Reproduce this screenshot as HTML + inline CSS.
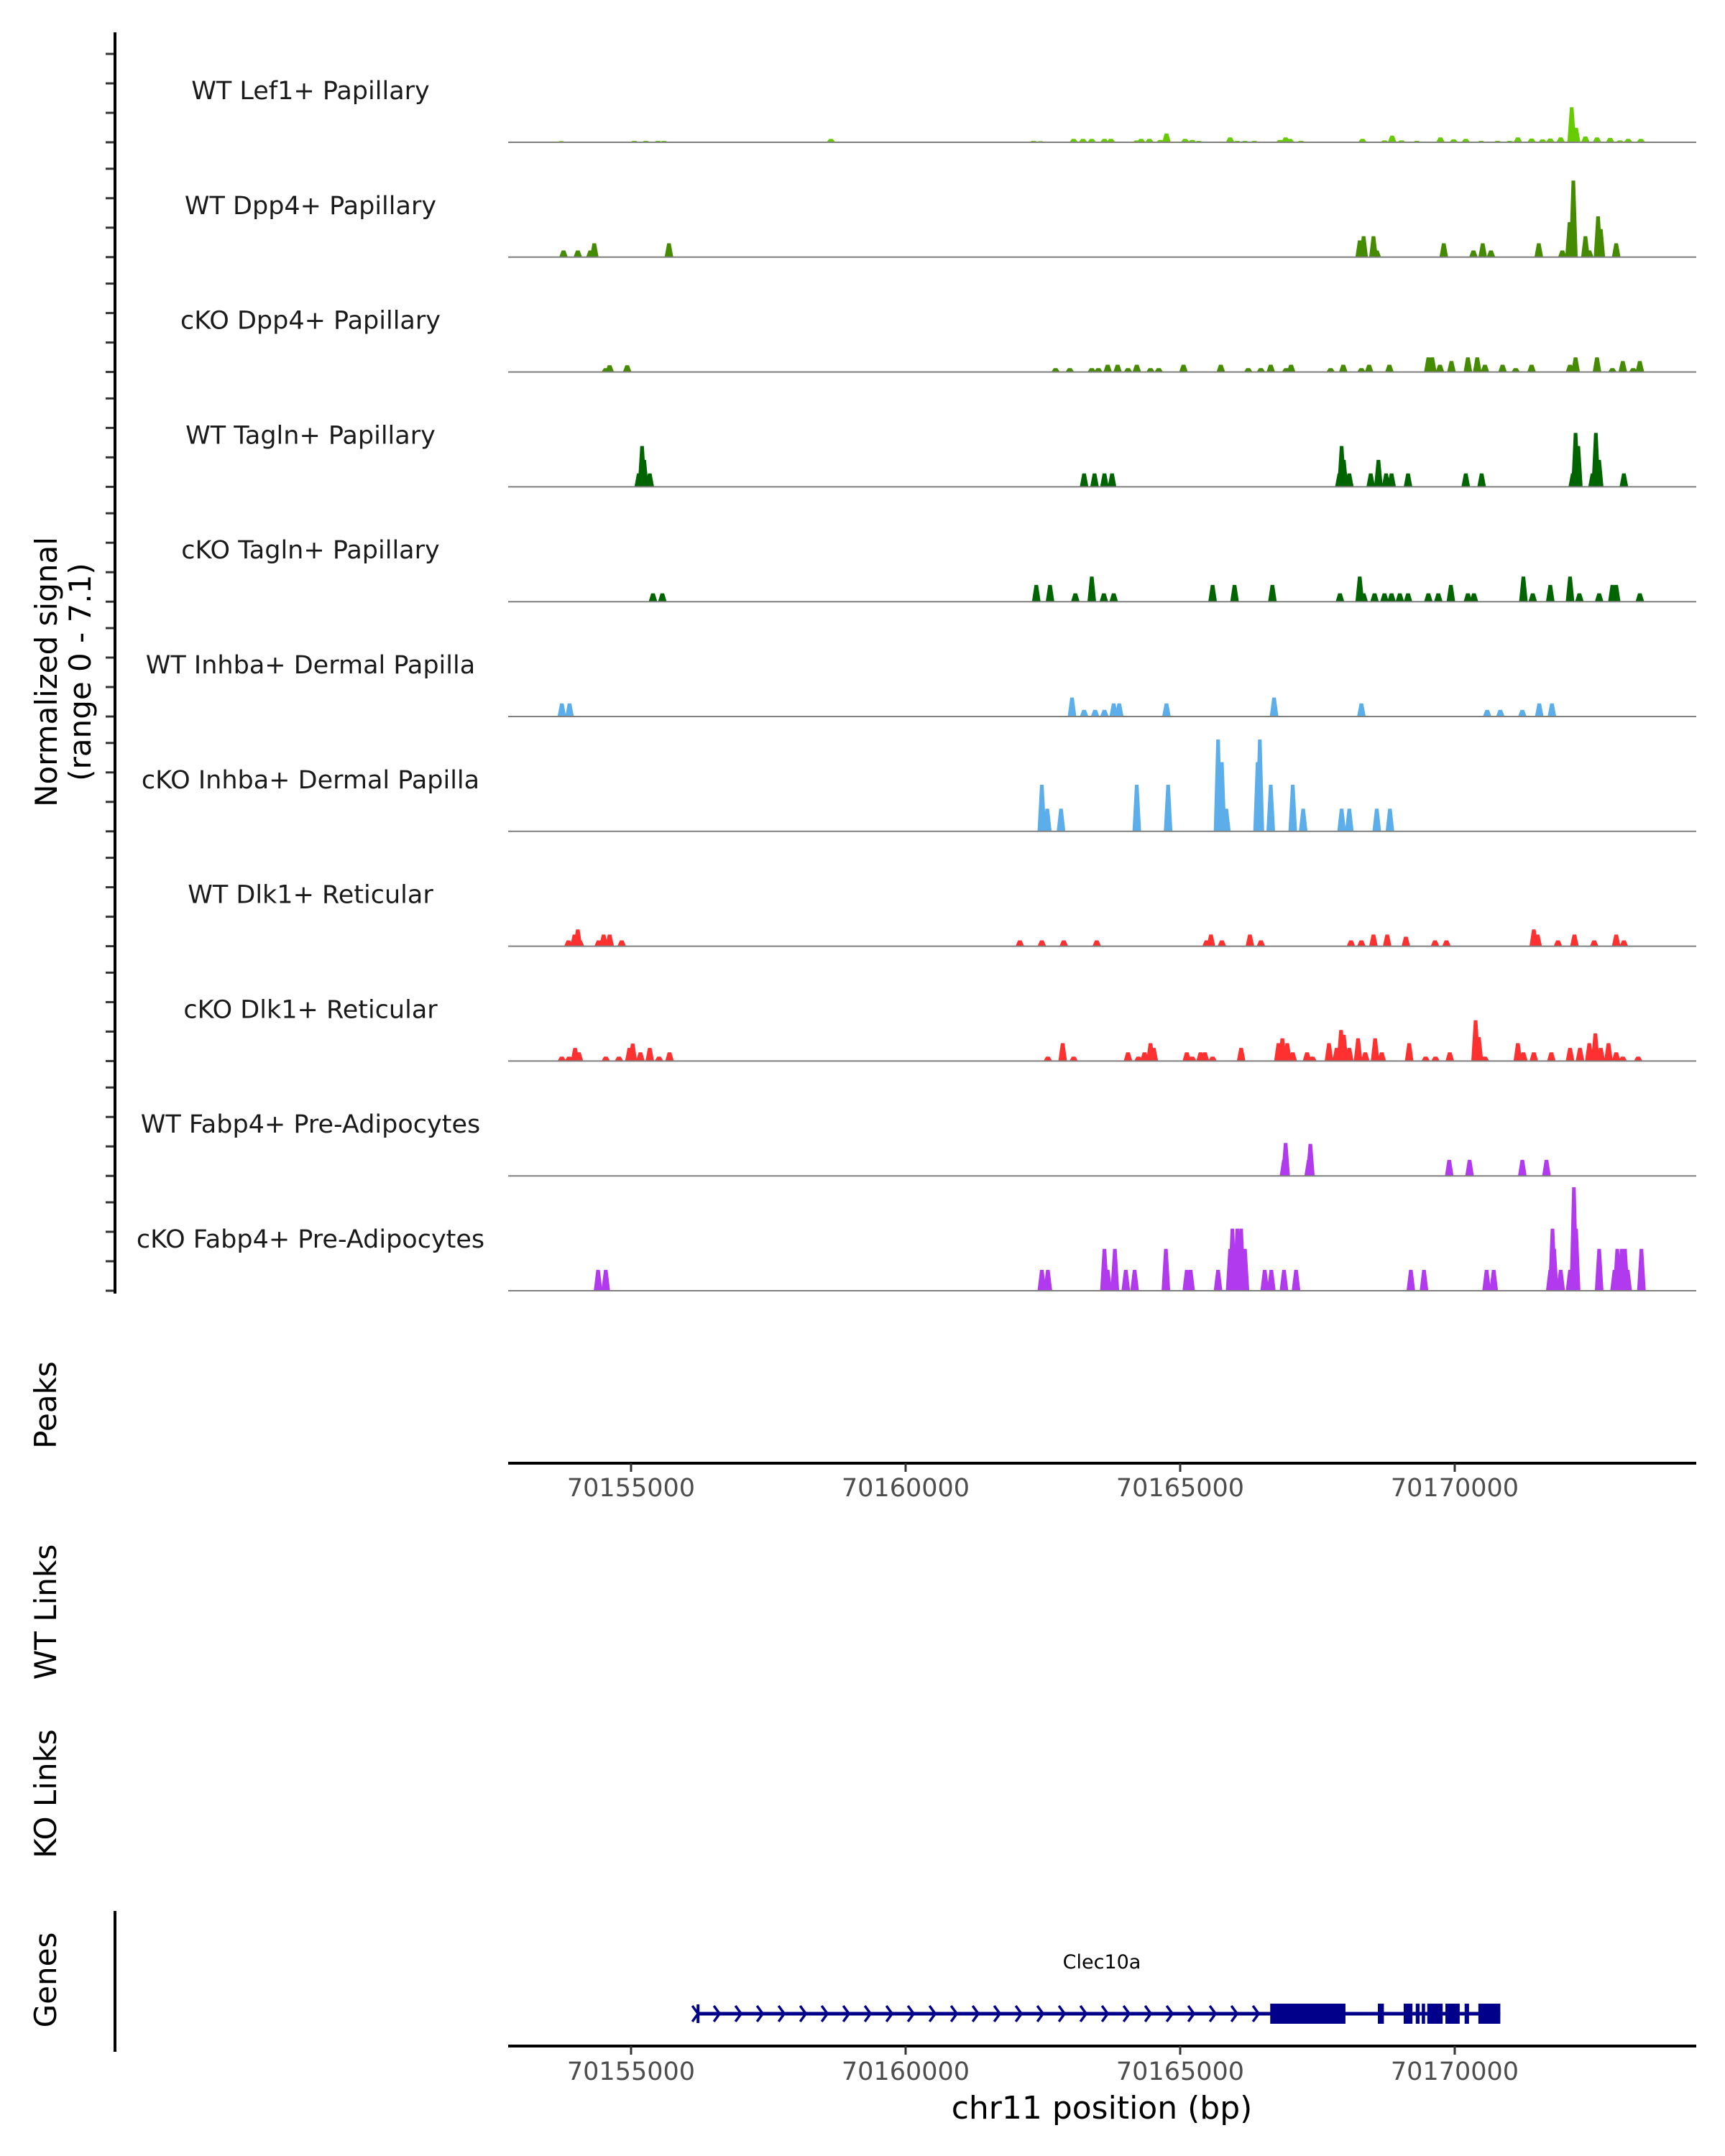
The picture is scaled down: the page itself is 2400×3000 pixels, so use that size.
<!DOCTYPE html>
<html><head><meta charset="utf-8"><style>
html,body{margin:0;padding:0;background:#fff;}
svg{display:block;font-family:"DejaVu Sans","Liberation Sans",sans-serif;}
</style></head><body>
<svg id="chart" xmlns="http://www.w3.org/2000/svg" width="2400" height="3000" viewBox="0 0 2400 3000">
<rect width="2400" height="3000" fill="#fff"/>
<g id="tracks"></g>
<g id="left-axis"></g>
<text transform="translate(79,935) rotate(-90)" text-anchor="middle" font-size="42" fill="#000">Normalized signal</text>
<text transform="translate(126,935) rotate(-90)" text-anchor="middle" font-size="42" fill="#000">(range 0 - 7.1)</text>
<text transform="translate(78,1955) rotate(-90)" text-anchor="middle" font-size="42" fill="#000">Peaks</text>
<text transform="translate(78,2243) rotate(-90)" text-anchor="middle" font-size="42" fill="#000">WT Links</text>
<text transform="translate(78,2496) rotate(-90)" text-anchor="middle" font-size="42" fill="#000">KO Links</text>
<text transform="translate(78,2755) rotate(-90)" text-anchor="middle" font-size="42" fill="#000">Genes</text>
<line x1="160" y1="2659" x2="160" y2="2855" stroke="#000" stroke-width="4"/>
<g id="xaxes"></g>
<g id="gene"></g>
<text x="1533" y="2948" text-anchor="middle" font-size="44" fill="#000">chr11 position (bp)</text>
</svg>
<script>
// ---- data (positions in kb offset from chr11:70,150,000; values = normalized signal) ----
const trackNames = ["WT Lef1+ Papillary","WT Dpp4+ Papillary","cKO Dpp4+ Papillary","WT Tagln+ Papillary","cKO Tagln+ Papillary","WT Inhba+ Dermal Papilla","cKO Inhba+ Dermal Papilla","WT Dlk1+ Reticular","cKO Dlk1+ Reticular","WT Fabp4+ Pre-Adipocytes","cKO Fabp4+ Pre-Adipocytes"];
const trackColors = ["#66cc00","#458b00","#458b00","#006400","#006400","#5caeeb","#5caeeb","#ff3030","#ff3030","#b23aee","#b23aee"];
const lef1Pos = [3.73,5.06,5.27,5.49,5.60,8.64,12.33,12.46,13.06,13.23,13.39,13.62,13.74,14.21,14.29,14.44,14.64,14.75,15.09,15.22,15.34,15.91,16.04,16.18,16.35,16.82,16.92,17.00,17.20,18.32,18.72,18.86,19.03,19.31,19.74,19.98,20.20,20.48,20.78,21.00,21.15,21.40,21.60,21.74,21.93,22.13,22.21,22.38,22.59,22.83,23.01,23.16,23.39];
const lef1Val = [.08,.1,.1,.1,.1,.23,.1,.08,.23,.23,.23,.23,.23,.13,.23,.23,.16,.6,.23,.16,.1,.33,.1,.1,.1,.16,.33,.23,.1,.23,.13,.46,.13,.1,.33,.2,.23,.1,.1,.1,.33,.26,.2,.26,.33,2.4,1.0,.4,.33,.3,.13,.23,.23];
const wtDpp4Pos = [3.77,4.03,4.26,4.33,5.69,18.27,18.34,18.52,18.58,19.80,20.34,20.51,20.66,21.53,21.96,22.09,22.16,22.38,22.45,22.61,22.66,22.94];
const wtDpp4Val = [.46,.46,.46,.95,.95,1.15,1.44,1.44,.46,.95,.46,.95,.46,.95,.46,2.4,5.25,1.44,.46,2.8,1.93,.95];
const koDpp4Pos = [4.54,4.61,4.93,12.73,12.99,13.39,13.51,13.68,13.86,14.05,14.21,14.46,14.61,15.06,15.74,16.24,16.47,16.65,16.93,17.02,17.74,17.97,18.30,18.44,18.81,19.52,19.59,19.73,19.94,20.24,20.41,20.55,20.87,21.11,21.40,22.10,22.20,22.59,22.87,23.06,23.25,23.37];
const koDpp4Val = [.26,.46,.46,.26,.26,.26,.26,.5,.5,.26,.5,.26,.26,.5,.5,.26,.26,.5,.26,.5,.26,.5,.26,.5,.5,1.0,1.0,.5,.75,1.0,1.0,.5,.5,.26,.5,.5,1.0,1.0,.26,.75,.26,.75];
const wtTaglnPos = [5.14,5.20,5.24,5.34,13.25,13.44,13.62,13.76,17.90,17.94,17.98,18.08,18.47,18.61,18.75,18.85,19.15,20.20,20.49,22.15,22.20,22.25,22.51,22.57,22.63,23.08];
const wtTaglnVal = [.92,2.8,1.85,.92,.92,.92,.92,.92,.92,2.8,1.85,.92,.92,1.85,.92,.92,.92,.92,.92,.92,3.7,2.8,.92,3.7,1.85,.92];
const koTaglnPos = [5.40,5.57,12.38,12.63,13.09,13.39,13.61,13.79,15.59,15.99,16.68,17.91,18.27,18.34,18.54,18.72,18.85,19.00,19.15,19.52,19.70,19.93,20.24,20.35,21.25,21.42,21.74,22.10,22.27,22.63,22.87,22.94,23.37];
const koTaglnVal = [.57,.57,1.15,1.15,.57,1.72,.57,.57,1.15,1.15,1.15,.57,1.72,.57,.57,.57,.57,.57,.57,.57,.57,1.15,.57,.57,1.72,.57,1.15,1.72,.57,.57,1.15,1.15,.57];
const wtInhbaPos = [3.74,3.88,13.03,13.25,13.45,13.62,13.79,13.89,14.75,16.71,18.30,20.59,20.83,21.23,21.54,21.77];
const wtInhbaVal = [.9,.9,1.3,.46,.46,.46,.9,.9,.9,1.3,.9,.46,.46,.46,.9,.9];
const koInhbaPos = [12.48,12.58,12.83,14.21,14.78,15.69,15.76,15.84,16.41,16.45,16.65,17.05,17.24,17.94,18.08,18.58,18.82];
const koInhbaVal = [3.2,1.56,1.56,3.2,3.2,6.3,4.75,1.56,4.75,6.3,3.2,3.2,1.56,1.56,1.56,1.56,1.56];
const wtDlk1Pos = [3.86,3.97,4.03,4.07,4.41,4.50,4.61,4.83,12.08,12.48,12.88,13.48,15.48,15.56,15.76,16.27,16.47,18.11,18.30,18.52,18.77,19.11,19.64,19.85,21.44,21.51,21.88,22.18,22.54,22.94,23.08];
const wtDlk1Val = [.4,.8,1.15,.4,.4,.8,.8,.4,.4,.4,.4,.4,.4,.8,.4,.8,.4,.4,.4,.8,.8,.65,.4,.4,1.15,.8,.4,.8,.4,.8,.4];
const koDlk1Pos = [3.74,3.87,3.98,4.05,4.54,4.78,4.97,5.03,5.17,5.34,5.51,5.70,12.59,12.86,13.06,14.05,14.24,14.35,14.46,14.52,15.12,15.22,15.37,15.45,15.59,16.11,16.79,16.86,16.95,17.05,17.31,17.41,17.71,17.85,17.93,17.98,18.08,18.24,18.37,18.55,18.67,19.17,19.47,19.65,19.91,20.38,20.44,20.55,21.15,21.25,21.44,21.76,22.10,22.28,22.45,22.56,22.66,22.80,22.94,23.06,23.34];
const koDlk1Val = [.3,.3,.9,.6,.3,.3,.9,1.2,.6,.9,.3,.6,.3,1.23,.3,.6,.3,.6,1.23,.9,.6,.3,.6,.6,.3,.9,1.23,1.56,1.23,.6,.6,.3,1.23,.9,2.13,1.8,.9,1.56,.6,1.56,.6,1.23,.3,.3,.6,2.8,1.64,.3,1.23,.6,.6,.6,.9,.9,1.23,1.9,.9,1.23,.6,.3,.3];
const wtFabp4Pos = [16.89,16.92,17.34,17.37,19.90,20.27,21.23,21.67];
const wtFabp4Val = [1.1,2.26,1.1,2.2,1.1,1.1,1.1,1.1];
const koFabp4Pos = [4.40,4.54,12.48,12.59,13.62,13.68,13.81,14.01,14.17,14.74,15.12,15.19,15.69,15.91,15.95,16.04,16.11,16.18,16.54,16.66,16.89,17.11,19.20,19.44,20.58,20.71,21.74,21.78,21.81,21.93,22.10,22.17,22.21,22.63,22.91,22.96,23.04,23.10,23.15,23.40];
const koFabp4Val = [1.43,1.43,1.43,1.43,2.87,1.43,2.87,1.43,1.43,2.87,1.43,1.43,1.43,2.87,4.26,4.26,4.26,2.87,1.43,1.43,1.43,1.43,1.43,1.43,1.43,1.43,1.43,4.26,2.87,1.43,1.43,7.1,4.26,2.87,1.43,2.87,2.87,2.87,1.43,2.87];
const trackPos = [lef1Pos,wtDpp4Pos,koDpp4Pos,wtTaglnPos,koTaglnPos,wtInhbaPos,koInhbaPos,wtDlk1Pos,koDlk1Pos,wtFabp4Pos,koFabp4Pos];
const trackVal = [lef1Val,wtDpp4Val,koDpp4Val,wtTaglnVal,koTaglnVal,wtInhbaVal,koInhbaVal,wtDlk1Val,koDlk1Val,wtFabp4Val,koFabp4Val];
const xTicks = [70155000,70160000,70165000,70170000];
const geneStart = 6.22, geneEnd = 20.83;
const exonStarts = [16.64,18.60,19.07,19.29,19.40,19.50,19.83,20.18,20.43];
const exonEnds   = [18.01,18.71,19.23,19.36,19.46,19.78,20.09,20.26,20.83];

// ---- scales ----
const NS="http://www.w3.org/2000/svg";
const X0=707, X1=2360, BP0=70152762, PX_PER_BP=382/5000;
function xBp(bp){return X0+(bp-BP0)*PX_PER_BP;}
function xKb(kb){return xBp(70150000+kb*1000);}
const YMAX=7.1, TRACK_H=144;
function baseY(i){return 198+i*159.8;}
function yVal(i,v){return baseY(i)-v/YMAX*TRACK_H;}
function mk(tag,attrs,parent){const e=document.createElementNS(NS,tag);for(const k in attrs)e.setAttribute(k,attrs[k]);parent.appendChild(e);return e;}

// ---- tracks ----
const tg=document.getElementById('tracks');
const la=document.getElementById('left-axis');
for(let i=0;i<trackNames.length;i++){
  const g=mk('g',{},tg);
  
  
  const b=baseY(i);
  let d='';
  const pos=trackPos[i], val=trackVal[i];
  for(let j=0;j<pos.length;j++){
    const cx=xKb(pos[j]), top=yVal(i,val[j]);
    const hw=6, tw=2.5;
    d+=`M${(cx-hw).toFixed(1)},${b} L${(cx-tw).toFixed(1)},${top.toFixed(1)} L${(cx+tw).toFixed(1)},${top.toFixed(1)} L${(cx+hw).toFixed(1)},${b} Z `;
  }
  const p=mk('path',{d:d,fill:trackColors[i]},g);
  
  
  const ln=mk('line',{x1:X0,x2:X1,y1:b,y2:b,stroke:'#7f7f7f','stroke-width':2},g);
  
  
  const t=mk('text',{x:432,y:b-60,'text-anchor':'middle','font-size':35,fill:'#1a1a1a'},g);
  
  
  t.textContent=trackNames[i];
  for(let k=0;k<4;k++){
    const ty=b-123+41*k;
    const tk=mk('line',{x1:147,x2:160,y1:ty,y2:ty,stroke:'#333','stroke-width':3},la);
    
    
  }
}
const axl=mk('line',{x1:160,x2:160,y1:45,y2:baseY(10)+4,stroke:'#000','stroke-width':4},la);



// ---- x axes ----
const xg=document.getElementById('xaxes');
[[2036,2070],[2847,2882]].forEach(([ay,ly],ai)=>{
  const l=mk('line',{x1:X0,x2:X1,y1:ay,y2:ay,stroke:'#000','stroke-width':4},xg);
  
  
  xTicks.forEach(v=>{
    const x=xBp(v);
    const tk=mk('line',{x1:x,x2:x,y1:ay,y2:ay+12,stroke:'#333','stroke-width':3},xg);
    
    
    const t=mk('text',{x:x,y:ly+12,'text-anchor':'middle','font-size':35,fill:'#4d4d4d'},xg);
    
    
    t.textContent=String(v);
  });
});

// ---- gene ----
const gg=document.getElementById('gene');
const GY=2802;
const gl=mk('line',{x1:xKb(geneStart),x2:xKb(geneEnd),y1:GY,y2:GY,stroke:'#00008b','stroke-width':5},gg);


const gs=mk('line',{x1:xKb(geneStart),x2:xKb(geneStart),y1:GY-13,y2:GY+13,stroke:'#00008b','stroke-width':4},gg);


let chev='';
for(let x=xKb(geneStart)-4;x<xKb(16.6);x+=30){chev+=`M${x-4},${GY-11} L${x+4},${GY} L${x-4},${GY+11} `;}
const cp=mk('path',{d:chev,fill:'none',stroke:'#00008b','stroke-width':3.5},gg);


for(let k=0;k<exonStarts.length;k++){
  const x1=xKb(exonStarts[k]),x2=xKb(exonEnds[k]);
  const r=mk('rect',{x:x1,y:GY-14,width:Math.max(3,x2-x1),height:28,fill:'#00008b'},gg);
  
  
}
const gt=mk('text',{x:1533,y:2739,'text-anchor':'middle','font-size':27,fill:'#000'},gg);


gt.textContent='Clec10a';
</script>
</body></html>
